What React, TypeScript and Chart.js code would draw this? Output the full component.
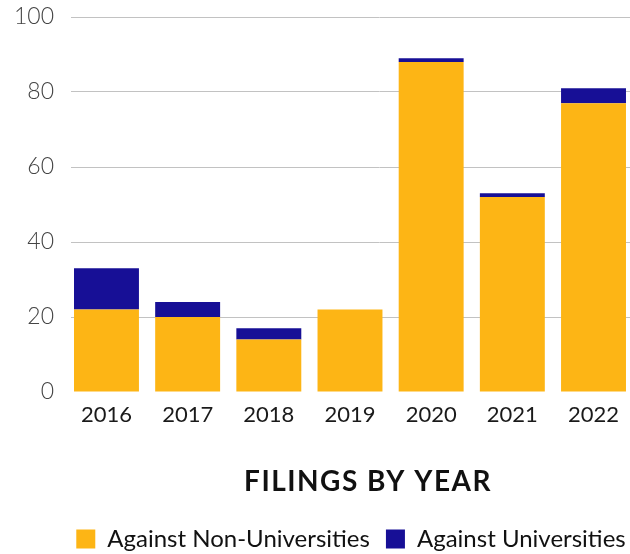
import React, { useEffect, useRef } from 'react';
import { Chart, registerables } from 'chart.js';

Chart.register(...registerables);

const years = ['2016', '2017', '2018', '2019', '2020', '2021', '2022'];
const againstNonUniversities = [22, 20, 14, 22, 88, 52, 77];
const againstUniversities = [11, 4, 3, 0, 1, 1, 4];
const yTicks = [0, 20, 40, 60, 80, 100];
const seriesLabels = ['Against Non-Universities', 'Against Universities'];
const seriesColors = ['#FDB515', '#170F96'];
const chartTitle = 'FILINGS BY YEAR';

export default function App() {
  const ref = useRef<HTMLCanvasElement>(null);

  useEffect(() => {
    let chart: Chart | null = null;
    let cancelled = false;

    const build = () => {
      if (cancelled || !ref.current) return;
      chart = new Chart(ref.current, {
        type: 'bar',
        data: {
          datasets: [
            {
              label: seriesLabels[0],
              data: years.map((_, i) => ({ x: i, y: againstNonUniversities[i] })),
              backgroundColor: seriesColors[0],
            },
            {
              label: seriesLabels[1],
              data: years.map((_, i) => ({ x: i, y: againstUniversities[i] })),
              backgroundColor: seriesColors[1],
            },
          ],
        } as any,
        options: {
          responsive: false,
          animation: false,
          layout: { padding: { left: 14, right: 12, top: 17, bottom: 4 } },
          datasets: {
            bar: { categoryPercentage: 0.8, barPercentage: 1, borderWidth: 0 },
          },
          scales: {
            x: {
              type: 'linear',
              stacked: true,
              offset: false,
              min: -0.437,
              max: 7.164,
              afterBuildTicks: (s: any) => {
                s.ticks = years.map((_, i) => ({ value: i }));
              },
              grid: { display: false, drawTicks: false },
              border: { display: false },
              ticks: {
                padding: 10,
                color: '#1a1a1a',
                autoSkip: false,
                maxRotation: 0,
                font: { family: 'Lato', size: 22 },
                callback: (v: any) => years[v as number],
              },
            },
            y: {
              stacked: true,
              min: 0,
              max: 100,
              afterBuildTicks: (s: any) => {
                s.ticks = yTicks.map((v) => ({ value: v }));
              },
              afterFit: (s: any) => {
                s.width = 57;
                s.paddingTop = 0;
                s.paddingBottom = 0;
              },
              grid: {
                color: (c: any) => (c.tick && c.tick.value === 0 ? 'rgba(0,0,0,0)' : '#c2c2c2'),
                drawTicks: false,
                lineWidth: 1,
              },
              border: { display: false },
              ticks: {
                padding: 17,
                color: '#444',
                font: { family: 'Lato', size: 23, weight: 300 as any },
              },
            },
          } as any,
          plugins: {
            legend: {
              position: 'bottom',
              fullSize: true,
              labels: {
                boxWidth: 19,
                boxHeight: 19,
                padding: 16,
                color: '#111',
                font: { family: 'Lato', size: 24 },
              },
            },
            title: {
              display: true,
              text: chartTitle,
              position: 'bottom',
              fullSize: true,
              weight: 500,
              color: '#111',
              font: { family: 'Lato', size: 28, weight: 'bold' },
              padding: { top: 27, bottom: 12 },
            },
            tooltip: { enabled: false },
          } as any,
        },
      });

      const tb = (chart as any).titleBlock;
      if (tb) {
        const orig = tb.draw.bind(tb);
        tb.draw = (area: any) => {
          const ctx = (chart as any).ctx as CanvasRenderingContext2D;
          ctx.save();
          (ctx as any).letterSpacing = '1.5px';
          ctx.translate(17, 0);
          orig(area);
          ctx.restore();
        };
        chart.draw();
      }
    };

    const fonts = (document as any).fonts;
    if (fonts && fonts.load) {
      Promise.all([
        fonts.load('22px Lato'),
        fonts.load('300 23px Lato'),
        fonts.load('bold 28px Lato'),
      ]).then(build, build);
    } else {
      build();
    }

    return () => {
      cancelled = true;
      if (chart) chart.destroy();
    };
  }, []);

  return (
    <div
      style={{
        position: 'fixed',
        left: 0,
        top: 0,
        width: 630,
        height: 554,
        overflow: 'hidden',
        background: '#fff',
      }}
    >
      <canvas ref={ref} width={700} height={565} style={{ width: 700, height: 565, display: 'block' }} />
    </div>
  );
}
